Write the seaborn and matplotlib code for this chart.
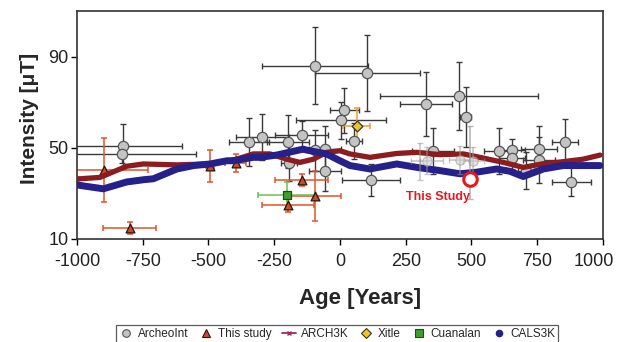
import numpy as np
import pandas as pd
import matplotlib
matplotlib.use("Agg")
import matplotlib.pyplot as plt
import matplotlib.transforms as mtransforms
from matplotlib.lines import Line2D
import seaborn as sns

# ArcheoInt compilation: age, intensity, age uncertainty, intensity uncertainty
arch_age = [-824, -828, -346, -295, -197, -146, -95, -57, -57, -195, -95, 16, 4, 54,
            104, 117, 327, 454, 478, 355, 606, 655, 655, 757, 757, 856, 880, 707]
arch_int = [50.6, 47.3, 52.7, 54.8, 52.7, 55.7, 86.0, 49.4, 39.7, 43.3, 49.0, 66.4, 62.0, 53.0,
            82.7, 35.7, 69.3, 72.6, 63.5, 48.7, 48.7, 49.0, 45.5, 49.4, 44.6, 52.7, 35.2, 40.0]
arch_dage = [225, 280, 75, 100, 80, 100, 200, 60, 60, 30, 20, 55, 170, 30,
             200, 110, 100, 300, 20, 80, 60, 50, 50, 70, 60, 50, 75, 30]
arch_dint = [10, 4, 10.5, 10, 11.5, 6, 17, 10, 8.5, 8, 9, 10, 8, 8,
             16.7, 7, 14, 15, 13, 10, 10, 5, 5, 10, 10, 10, 6.5, 8]

# Older entries drawn faintly
faint_age = [330, 456, 507, 304]
faint_int = [44.3, 44.6, 44.3, 44.0]
faint_dage = [60, 40, 40, 0]
faint_dint = [6, 6, 6, 8]

# This study
study_age = [-899, -800, -495, -397, -146, -95, -197]
study_int = [40.3, 14.9, 42.0, 43.3, 36.0, 28.7, 24.8]
study_dage = [170, 100, 15, 40, 100, 100, 100]
study_dint = [14, 2.7, 7, 4, 2.7, 11, 3]

# Xitle and Cuanalan
xitle_age, xitle_int, xitle_dage, xitle_dint = [63], [59.6], [50], [8]
cuan_age, cuan_int, cuan_dage, cuan_dint = [-203], [29.1], [108], [6]

# Highlighted result
hl_age, hl_int = [494], [36.4]

# Geomagnetic field models
arch3k_age = [-1000, -989, -913, -811, -748, -621, -494, -393, -330, -266, -203, -152, -101,
              -51, 0, 38, 114, 216, 292, 380, 469, 532, 621, 697, 773, 849, 925, 989]
arch3k_int = [36.4, 36.4, 37.0, 41.9, 42.9, 42.5, 42.9, 45.0, 47.3, 47.3, 45.0, 43.6, 45.0,
              48.0, 48.7, 47.3, 45.8, 47.5, 48.0, 47.0, 47.3, 45.8, 43.6, 41.4, 43.0, 43.9, 45.0, 46.8]

cals3k_age = [-1000, -989, -900, -811, -746, -710, -620, -556, -494, -430, -406, -330, -304,
              -241, -140, -127, -51, 0, 38, 114, 216, 292, 380, 456, 520, 596, 646, 697,
              773, 849, 925, 989]
cals3k_int = [33.9, 33.5, 32.0, 35.0, 36.0, 36.4, 40.7, 42.2, 42.9, 44.3, 44.3, 45.8, 45.8,
              46.8, 49.4, 49.0, 47.3, 44.3, 42.2, 40.7, 42.9, 41.4, 40.0, 38.6, 39.3, 40.7, 39.7, 37.4,
              40.7, 42.2, 42.2, 42.2]

x_ticks = [-1000, -750, -500, -250, 0, 250, 500, 750, 1000]
y_ticks = [10, 50, 90]

sns.set_theme(style="white")
plt.rcParams["font.family"] = ["Liberation Sans", "DejaVu Sans"]

fig = plt.figure(figsize=(6.19, 3.42), dpi=100)
ax = fig.add_axes([0.1244, 0.3012, 0.8496, 0.6668])

c_red = "#8c1c1e"
c_blue = "#25208a"

# error bars
ax.errorbar(arch_age, arch_int, xerr=arch_dage, yerr=arch_dint, fmt="none",
            ecolor="#3a3a3a", elinewidth=1.0, capsize=2.5, capthick=1.0, zorder=2)
ax.errorbar(study_age, study_int, xerr=study_dage, yerr=study_dint, fmt="none",
            ecolor="#e0552c", elinewidth=1.1, capsize=2.5, capthick=1.1, zorder=2)
ax.errorbar(xitle_age, xitle_int, xerr=xitle_dage, yerr=xitle_dint, fmt="none",
            ecolor="#e8a035", elinewidth=1.1, capsize=2.5, capthick=1.1, zorder=2)
ax.errorbar(cuan_age, cuan_int, xerr=cuan_dage, yerr=cuan_dint, fmt="none",
            ecolor="#6cc055", elinewidth=1.1, capsize=2.5, capthick=1.1, zorder=2)

sns.scatterplot(x=arch_age, y=arch_int, marker="o", s=55, color="#c4c4c4",
                edgecolor="#555555", linewidth=0.9, ax=ax, zorder=3, legend=False)
sns.scatterplot(x=study_age, y=study_int, marker="^", s=40, color="#d4461c",
                edgecolor="#1a1a1a", linewidth=0.9, ax=ax, zorder=3, legend=False)
sns.scatterplot(x=xitle_age, y=xitle_int, marker="D", s=30, color="#f2c41e",
                edgecolor="#333333", linewidth=0.9, ax=ax, zorder=3, legend=False)
sns.scatterplot(x=cuan_age, y=cuan_int, marker="s", s=40, color="#3f9e2e",
                edgecolor="#1c4d14", linewidth=0.9, ax=ax, zorder=3, legend=False)

# field model curves
sns.lineplot(x=arch3k_age, y=arch3k_int, color=c_red, linewidth=3.8, ax=ax,
             zorder=4, legend=False, sort=False)
sns.lineplot(x=cals3k_age, y=cals3k_int, color=c_blue, linewidth=5.0, ax=ax,
             zorder=5, legend=False, sort=False)

# faint overlay entries
ax.errorbar(faint_age, faint_int, xerr=faint_dage, yerr=faint_dint, fmt="none",
            ecolor="#9a9a9a", elinewidth=1.2, capsize=2.5, alpha=0.55, zorder=6)
sns.scatterplot(x=faint_age[:3], y=faint_int[:3], marker="o", s=45, color="#cfcfcf",
                edgecolor="#999999", linewidth=0.8, alpha=0.6, ax=ax, zorder=6, legend=False)

# highlighted result
ax.errorbar(hl_age, hl_int, yerr=[[9], [23]], fmt="none", ecolor="#9a9a9a",
            elinewidth=1.2, capsize=2.5, alpha=0.7, zorder=6)
sns.scatterplot(x=hl_age, y=hl_int, marker="o", s=95, color="white",
                edgecolor="#e4191f", linewidth=2.2, ax=ax, zorder=7, legend=False)
ax.text(hl_age[0] + 2, hl_int[0] - 7.8, "This Study", color="#e4191f",
        fontsize=9, fontweight="bold", ha="right", va="center", zorder=8)

ax.set_xlim(-1000, 1000)
ax.set_ylim(10, 110)
ax.set_xticks(x_ticks)
ax.set_xticklabels([str(t) for t in x_ticks])
ax.set_yticks(y_ticks)
ax.tick_params(axis="both", direction="out", length=4, width=1, color="black",
               labelsize=13, labelcolor="#222222", bottom=True, left=True)
ax.tick_params(axis="x", pad=6)
ax.tick_params(axis="y", pad=2)
for sp in ax.spines.values():
    sp.set_color("#333333")
    sp.set_linewidth(1.2)

# keep the last x label inside the canvas
last = ax.get_xticklabels()[-1]
last.set_transform(last.get_transform() +
                   mtransforms.ScaledTranslation(-9 / 100, 0, fig.dpi_scale_trans))

ax.set_xlabel("Age [Years]", fontsize=16, fontweight="bold")
ax.xaxis.set_label_coords(0.538, -0.215)
ax.set_ylabel("Intensity [μT]", fontsize=15, fontweight="bold")
ax.yaxis.set_label_coords(-0.072, 0.53)

handles = [
    Line2D([], [], ls="none", marker="o", ms=5.5, mfc="#c4c4c4", mec="#555555", mew=0.8),
    Line2D([], [], ls="none", marker="^", ms=5.5, mfc="#d4461c", mec="#1a1a1a", mew=0.8),
    Line2D([], [], color="#a0285a", lw=1.3, marker="x", ms=3.5, mew=1),
    Line2D([], [], ls="none", marker="D", ms=5, mfc="#f2c41e", mec="#333333", mew=0.8),
    Line2D([], [], ls="none", marker="s", ms=5.5, mfc="#3f9e2e", mec="#1c4d14", mew=0.8),
    Line2D([], [], ls="none", marker="o", ms=4.5, mfc=c_blue, mec=c_blue),
]
labels = ["ArcheoInt", "This study", "ARCH3K", "Xitle", "Cuanalan", "CALS3K"]
leg = fig.legend(handles, labels, loc="upper left", bbox_to_anchor=(0.187, 0.0497),
                 ncol=6, fontsize=8.5, frameon=True, fancybox=False, edgecolor="#333333",
                 handlelength=1.2, handletextpad=0.4, columnspacing=0.9,
                 borderpad=0.25, borderaxespad=0)
leg.get_frame().set_linewidth(0.9)

fig.savefig("out.png", dpi=100)
